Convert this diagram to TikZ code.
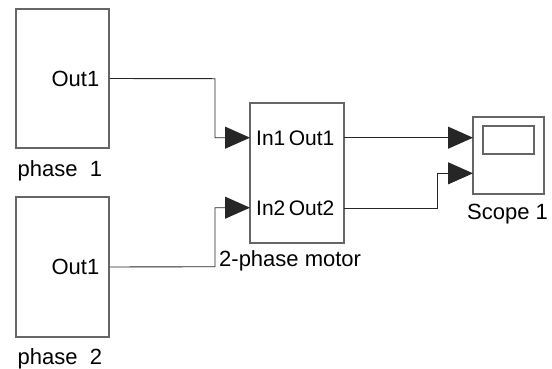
\documentclass[tikz,border=0pt]{standalone}
\usepackage{fontspec}
\setmainfont{Liberation Sans}
\usetikzlibrary{arrows.meta}
\begin{document}
\begin{tikzpicture}[x=1pt,y=-1pt,
  blk/.style={draw=black!60,line width=1.1pt,fill=white,inner sep=0pt,minimum width=#1},
  wire/.style={draw=black!85,line width=0.9pt},
  arr/.style={wire,-{Triangle[length=25pt,width=22pt]}},
  txt/.style={inner sep=0pt,font=\fontsize{22}{26}\selectfont},
  ptxt/.style={inner sep=0pt,font=\fontsize{21}{25}\selectfont}]
\useasboundingbox (0,0) rectangle (552,368);
% blocks
\node[blk=93pt,minimum height=139pt] (p1) at (62.5,78.5) {};
\node[blk=93pt,minimum height=140pt] (p2) at (62.5,267) {};
\node[blk=94pt,minimum height=140pt] (motor) at (297,173) {};
\node[blk=71pt,minimum height=77pt] (scope) at (508.5,155.5) {};
\node[blk=51pt,minimum height=28pt] (screen) at (508.5,140) {};
% ports
\coordinate (m-in1) at (250,137.7);
\coordinate (m-in2) at (250,207.7);
\coordinate (m-out1) at (344,137.7);
\coordinate (m-out2) at (344,208.3);
\coordinate (s-in1) at (473,137.7);
\coordinate (s-in2) at (473,173.3);
% texts
\node[txt,anchor=base east] (t-p1out) at (99.5,86.7) {Out1};
\node[txt,anchor=base east] (t-p2out) at (99.5,274.7) {Out1};
\node[txt,anchor=base west] (t-p1) at (17.5,176.2) {phase~~1};
\node[txt,anchor=base west] (t-p2) at (17.5,364) {phase~~2};
\node[ptxt,anchor=base west] (t-in1) at (256,145) {In1};
\node[ptxt,anchor=base west] (t-in2) at (256,215) {In2};
\node[ptxt,anchor=base east] (t-out1) at (334.5,145) {Out1};
\node[ptxt,anchor=base east] (t-out2) at (334.5,215) {Out2};
\node[txt,anchor=base west] (t-motor) at (219,266.7) {2-phase motor};
\node[txt,anchor=base west] (t-scope) at (467,219) {Scope 1};
% connectors
\draw[arr] (p1.east) -- (215,78.7) |- (m-in1);
\draw[arr] (p2.east) -- (215,266.7) |- (m-in2);
\draw[arr] (m-out1) -- (s-in1);
\draw[arr] (m-out2) -- (437.7,208.3) |- (s-in2);
\end{tikzpicture}
\end{document}
